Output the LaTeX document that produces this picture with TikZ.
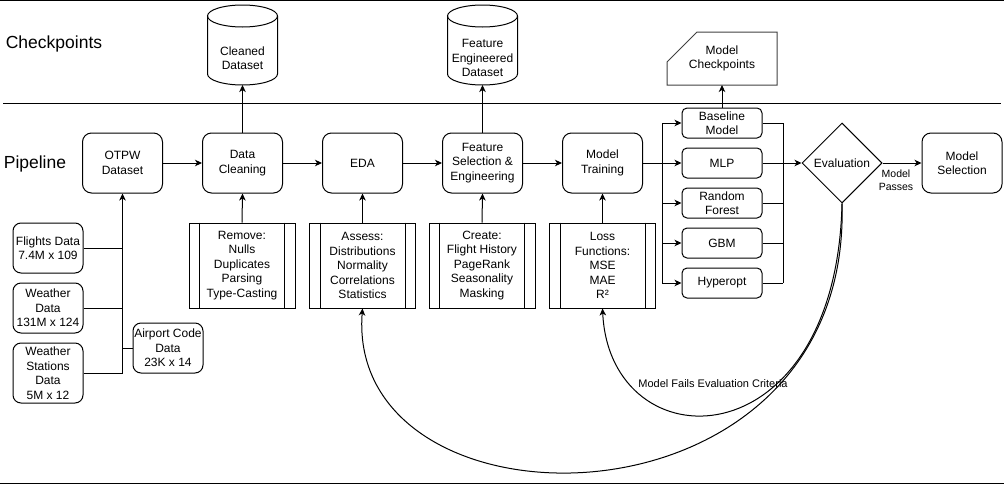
\documentclass[tikz,border=0pt]{standalone}
\usepackage{fontspec}
\setmainfont{Liberation Sans}
\usetikzlibrary{arrows.meta,shapes.geometric}
\begin{document}
\begin{tikzpicture}[x=1pt,y=-1pt,line width=1pt,
  font=\fontsize{12}{14.5}\selectfont,
  arr/.style={-{Stealth[length=7pt,width=6.5pt,inset=2pt]}},
  mainbox/.style={draw,rounded corners=9pt,minimum width=80pt,minimum height=60pt,align=center,inner sep=0pt},
  modelbox/.style={draw,rounded corners=5pt,minimum width=80pt,minimum height=30pt,align=center,inner sep=0pt},
  inbox/.style={draw,rounded corners=8pt,minimum width=70pt,minimum height=50pt,align=center,inner sep=0pt},
  procbox/.style={draw,minimum width=106pt,minimum height=85pt,align=center,inner sep=0pt},
  ghost/.style={inner sep=0pt,outer sep=0pt},
  lane/.style={anchor=west,font=\fontsize{17.5}{20}\selectfont},
  small/.style={align=center,font=\fontsize{10.5}{13}\selectfont}
]
\useasboundingbox (0,0) rectangle (1004,485);
% lane separators
\draw (0,0.5) -- (1004,0.5);
\draw (3,103) -- (1001,103);
\draw (0,483) -- (1004,483);
\node[lane] (lck) at (2,44) {Checkpoints};
\node[lane] (lpl) at (0,164) {Pipeline};

% main pipeline
\node[mainbox] (otpw) at (122.5,163) {OTPW\\Dataset};
\node[mainbox] (dc) at (242.5,163) {Data\\Cleaning};
\node[mainbox] (eda) at (362.5,163) {EDA};
\node[mainbox] (fse) at (482.5,163) {Feature\\Selection \&\\Engineering};
\node[mainbox] (mt) at (602.5,163) {Model\\Training};
\node[mainbox] (ms) at (962,163) {Model\\Selection};

% cylinders
\foreach \cx/\nm in {242.5/cd,482.5/fed}{
  \draw (\cx,16) ellipse [x radius=35pt,y radius=11pt];
  \draw (\cx-35,16) -- (\cx-35,74)
     .. controls (\cx-35,80.08) and (\cx-19.33,85) .. (\cx,85)
     .. controls (\cx+19.33,85) and (\cx+35,80.08) .. (\cx+35,74) -- (\cx+35,16);
  \node[ghost,minimum width=70pt,minimum height=80pt] (\nm) at (\cx,45) {};
}
\node[align=center] (cdt) at (242.5,58) {Cleaned\\Dataset};
\node[align=center] (fedt) at (482.5,58) {Feature\\Engineered\\Dataset};

% model checkpoints card
\draw[black!75] (697,32) -- (777,32) -- (777,85) -- (667,85) -- (667,62) -- cycle;
\node[ghost,minimum width=110pt,minimum height=53pt,align=center] (mc) at (722,58.5) {Model\\Checkpoints};

% input boxes
\node[inbox] (fl) at (48,248) {Flights Data\\7.4M x 109};
\node[inbox] (we) at (48,308) {Weather\\Data\\131M x 124};
\node[inbox,minimum height=60pt] (ws) at (48,373) {Weather\\Stations\\Data\\5M x 12};
\node[inbox] (ap) at (168,348) {Airport Code\\Data\\23K x 14};

% process boxes
\node[procbox] (p1) at (242,265.5) {Remove:\\Nulls\\Duplicates\\Parsing\\Type-Casting};
\node[procbox] (p2) at (362.5,265.5) {Assess:\\Distributions\\Normality\\Correlations\\Statistics};
\node[procbox] (p3) at (482,265.5) {Create:\\Flight History\\PageRank\\Seasonality\\Masking};
\node[procbox] (p4) at (602.5,265.5) {Loss\\Functions:\\MSE\\MAE\\R²};
\foreach \p in {p1,p2,p3,p4}{
  \draw ([xshift=11pt]\p.north west) -- ([xshift=11pt]\p.south west);
  \draw ([xshift=-11pt]\p.north east) -- ([xshift=-11pt]\p.south east);
}

% models
\node[modelbox] (base) at (722,123) {Baseline\\Model};
\node[modelbox] (mlp) at (722,163) {MLP};
\node[modelbox] (rf) at (722,203) {Random\\Forest};
\node[modelbox] (gbm) at (722,243) {GBM};
\node[modelbox] (hyp) at (722,283) {Hyperopt};
\node[draw,diamond,aspect=1,minimum width=80pt,minimum height=80pt,inner sep=0pt] (ev) at (842,163) {Evaluation};

\coordinate (lbus) at (662,163);
\coordinate (rbus) at (783,163);

% connectors
\draw[arr] (otpw) -- (dc);
\draw[arr] (dc) -- (eda);
\draw[arr] (eda) -- (fse);
\draw[arr] (fse) -- (mt);
\draw[arr] (dc.north) -- (cd.south);
\draw[arr] (fse.north) -- (fed.south);
\draw[arr] (base.north) -- (mc.south);

\draw[arr] (ws.east) -| (otpw.south);
\draw (fl.east) -- (fl.east -| otpw.south);
\draw (we.east) -- (we.east -| otpw.south);
\draw (ap.west) -- (ap.west -| otpw.south);

\foreach \p/\m in {p1/dc,p2/eda,p3/fse,p4/mt}{
  \draw[arr] (\p.north) -- (\m.south);
}

\draw[arr] (mt.east) -- (mlp.west);
\draw (lbus |- base.west) -- (lbus |- hyp.west);
\foreach \m in {base,rf,gbm,hyp}{
  \draw[arr] (lbus |- \m.west) -- (\m.west);
  \draw (\m.east) -- (rbus |- \m.east);
}
\draw (rbus |- base.east) -- (rbus |- hyp.east);
\draw[arr] (mlp.east) -- (ev.west);

\draw[arr] (ev.east) -- (ms.west);
\node[small] (mpass) at (896,180) {Model\\Passes};

\draw[arr] (ev.south) .. controls (836,465) and (610,465) .. (p4.south);
\draw[arr] (ev.south) .. controls (852,542) and (345,542) .. (p2.south);
\node[small,font=\fontsize{11}{13}\selectfont] (fail) at (713,384) {Model Fails Evaluation Criteria};
\end{tikzpicture}
\end{document}
